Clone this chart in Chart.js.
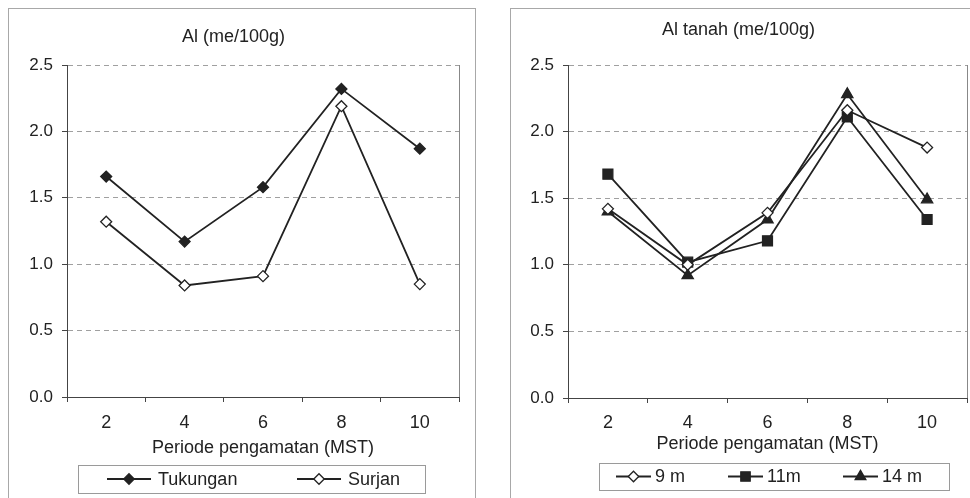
<!DOCTYPE html>
<html>
<head>
<meta charset="utf-8">
<script src="https://cdn.jsdelivr.net/npm/chart.js@4.4.1/dist/chart.umd.min.js"></script>
<style>
  body { margin: 0; background: #fff; width: 970px; height: 498px; overflow: hidden; position: relative; }
  .panel { position: absolute; border: 1px solid #a8a8a8; }
  canvas { position: absolute; }
</style>
</head>
<body>
<div class="panel" style="left:8px;top:8px;width:466px;height:489px"></div>
<div class="panel" style="left:510px;top:8px;width:480px;height:489px"></div>
<canvas id="alChart" width="467" height="490" style="left:8px;top:8px"></canvas>
<canvas id="tanahChart" width="470" height="490" style="left:510px;top:8px"></canvas>
<script>
// observation period (weeks after planting)
const weeks = ['2', '4', '6', '8', '10'];
const yTicks = [0, 0.5, 1.0, 1.5, 2.0, 2.5];

// Al (me/100g) by location
const tukungan = [1.66, 1.17, 1.58, 2.32, 1.87];
const surjan = [1.32, 0.84, 0.91, 2.19, 0.85];

// soil Al (me/100g) by distance
const jarak9 = [1.42, 1.00, 1.39, 2.16, 1.88];
const jarak11 = [1.68, 1.02, 1.18, 2.11, 1.34];
const jarak14 = [1.40, 0.92, 1.34, 2.28, 1.49];

const INK = '#222';
const FONT = "'Liberation Sans', Arial, sans-serif";
Chart.defaults.font.family = FONT;
Chart.defaults.color = INK;

// legend drawn inside a framed box under the axis title
const boxLegend = {
    id: 'boxLegend',
    afterDraw(chart, args, opts) {
        const ctx = chart.ctx;
        const b = opts.box;
        const cy = b.y + b.h / 2;
        ctx.save();
        ctx.strokeStyle = '#9a9a9a';
        ctx.lineWidth = 1;
        ctx.strokeRect(b.x + 0.5, b.y + 0.5, b.w, b.h);
        ctx.font = '18px ' + FONT;
        ctx.textBaseline = 'middle';
        chart.data.datasets.forEach((ds, i) => {
            const x = opts.itemX[i];
            ctx.strokeStyle = ds.borderColor;
            ctx.lineWidth = ds.borderWidth;
            ctx.beginPath();
            ctx.moveTo(x, cy);
            ctx.lineTo(x + opts.lineLen, cy);
            ctx.stroke();
            ctx.fillStyle = ds.pointBackgroundColor;
            ctx.strokeStyle = ds.pointBorderColor;
            ctx.lineWidth = ds.pointBorderWidth;
            Chart.helpers.drawPoint(ctx, {
                pointStyle: ds.pointStyle,
                radius: ds.pointRadius * 0.95,
                rotation: 0,
                borderWidth: ds.pointBorderWidth
            }, x + opts.lineLen / 2, cy);
            ctx.fillStyle = INK;
            ctx.fillText(ds.label, x + opts.lineLen + opts.gap, cy + 1);
        });
        ctx.restore();
    }
};

function series(label, data, style, filled, radius) {
    return {
        label: label,
        data: data,
        borderColor: INK,
        borderWidth: 1.8,
        pointStyle: style,
        pointRadius: radius,
        pointBackgroundColor: filled ? INK : '#fff',
        pointBorderColor: INK,
        pointBorderWidth: 1.3,
        tension: 0
    };
}

function makeScales(yWidth, xHeight, tickPad) {
    return {
        x: {
            offset: true,
            grid: {
                offset: true,
                color: c => c.tick ? 'rgba(0,0,0,0)' : '#888',
                tickColor: '#444',
                tickLength: 5
            },
            border: { color: '#444', width: 1 },
            ticks: { font: { size: 18 }, color: INK, padding: tickPad, maxRotation: 0 },
            title: {
                display: true,
                text: 'Periode pengamatan (MST)',
                font: { size: 18 },
                color: INK,
                padding: { top: 2, bottom: 0 }
            },
            afterFit: s => { s.height = xHeight; }
        },
        y: {
            min: yTicks[0],
            max: yTicks[yTicks.length - 1],
            afterBuildTicks: s => { s.ticks = yTicks.map(v => ({ value: v })); },
            grid: { color: '#a0a0a0', tickColor: '#444', tickLength: 5 },
            border: { color: '#444', width: 1, dash: [5, 4] },
            ticks: { font: { size: 17 }, color: INK, padding: 9, callback: v => v.toFixed(1) },
            afterFit: s => { s.width = yWidth; }
        }
    };
}

function titleOpts(text, top, bottom) {
    return {
        display: true,
        text: text,
        font: { size: 18, weight: 'normal' },
        color: INK,
        padding: { top: top, bottom: bottom }
    };
}

new Chart(document.getElementById('alChart'), {
    type: 'line',
    data: {
        labels: weeks,
        datasets: [
            series('Tukungan', tukungan, 'rectRot', true, 5.5),
            series('Surjan', surjan, 'rectRot', false, 5.5)
        ]
    },
    options: {
        responsive: false,
        animation: false,
        layout: { padding: { left: 0, right: 16, top: 0, bottom: 39 } },
        scales: makeScales(59, 62, 10),
        plugins: {
            legend: { display: false },
            tooltip: { enabled: false },
            title: titleOpts('Al (me/100g)', 18, 17.4),
            boxLegend: { box: { x: 70, y: 457, w: 347, h: 28 }, itemX: [99, 289], lineLen: 44, gap: 7 }
        }
    },
    plugins: [boxLegend]
});

new Chart(document.getElementById('tanahChart'), {
    type: 'line',
    data: {
        labels: weeks,
        datasets: [
            series('9 m', jarak9, 'rectRot', false, 5.5),
            series('11m', jarak11, 'rect', true, 7),
            series('14 m', jarak14, 'triangle', true, 6.5)
        ]
    },
    options: {
        responsive: false,
        animation: false,
        layout: { padding: { left: 0, right: 13, top: 0, bottom: 43 } },
        scales: makeScales(58, 57, 9),
        plugins: {
            legend: { display: false },
            tooltip: { enabled: false },
            title: titleOpts('Al tanah (me/100g)', 11, 24.4),
            boxLegend: { box: { x: 89, y: 455, w: 350, h: 27 }, itemX: [106, 218, 333], lineLen: 35, gap: 4 }
        }
    },
    plugins: [boxLegend]
});
</script>
</body>
</html>
